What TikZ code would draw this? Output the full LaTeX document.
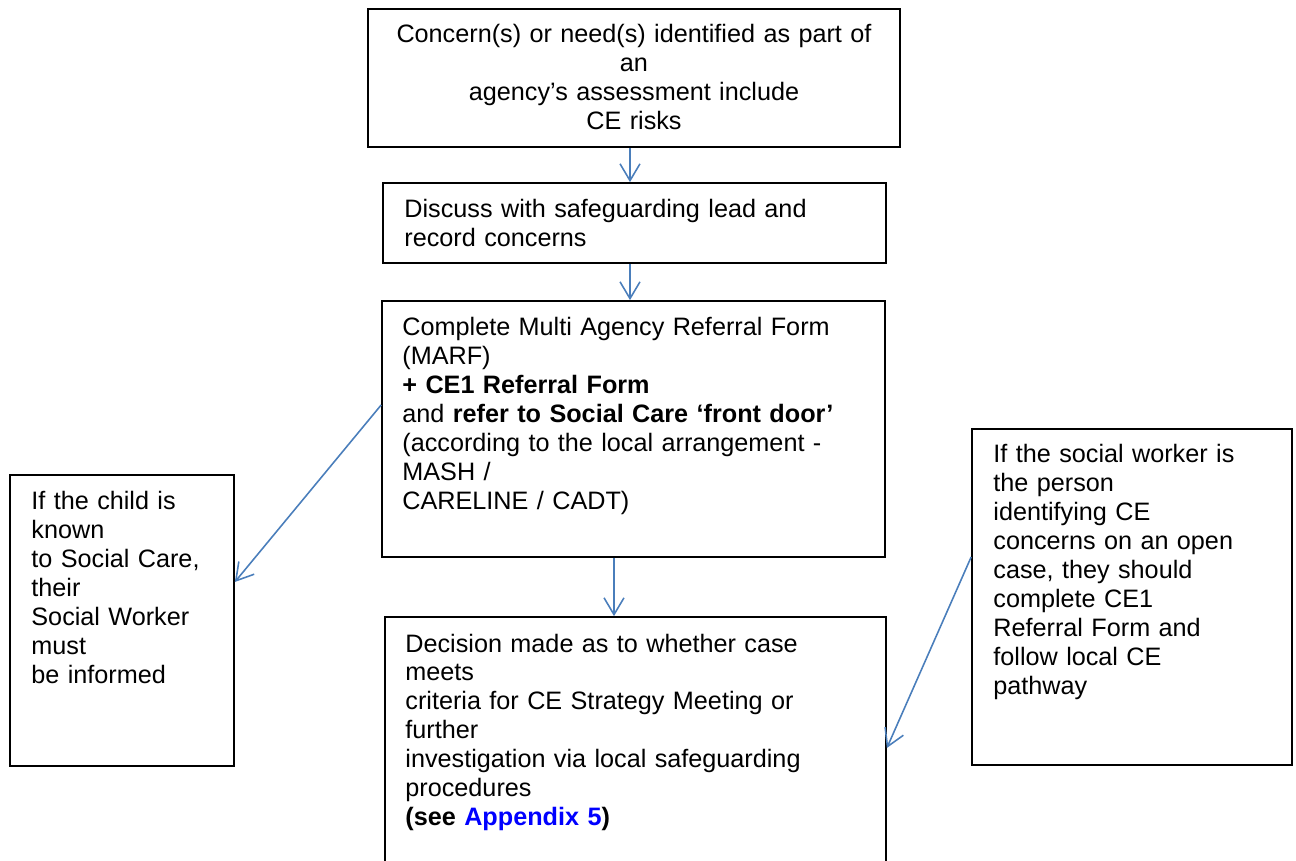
\documentclass[tikz,border=0pt]{standalone}
\usepackage{fontspec}
\setmainfont{Liberation Sans}
\usetikzlibrary{arrows.meta,fit}
\definecolor{flowblue}{HTML}{4A7EBB}
\definecolor{linkblue}{RGB}{0,0,255}
\tikzstyle{box}=[draw=black,line width=0.8pt,inner sep=0pt]
\tikzstyle{boxtext}=[inner sep=0pt,align=left,anchor=base west,font=\fontsize{12}{13.8}\selectfont]
\tikzstyle{flow}=[draw=flowblue,line width=0.75pt,-{Straight Barb[length=8pt,width=9.5pt]}]

\begin{document}
\begin{tikzpicture}[x=0.476pt,y=-0.476pt]
	\useasboundingbox (0,0) rectangle (1296,861);
	% the boxes
	\node[box,fit={(368,9) (900,147)}] (concern) {};
	\node[box,fit={(383,183) (886,263)}] (discuss) {};
	\node[box,fit={(382,301) (885,557)}] (marf) {};
	\node[box,fit={(385,617) (886,880)}] (decision) {};
	\node[box,fit={(10,475) (234,766)}] (known) {};
	\node[box,fit={(972,429) (1292,765)}] (open) {};
	% texts
	\node[boxtext,anchor=base,align=center,text width=260pt] (concerntxt) at (634,43)
		{Concern(s) or need(s) identified as part of\\ an\\ agency’s assessment include\\ CE risks};
	\node[boxtext,text width=225pt] (discusstxt) at (404,218)
		{Discuss with safeguarding lead and\\ record concerns};
	\node[boxtext,text width=225pt] (marftxt) at (402,336)
		{Complete Multi Agency Referral Form\\ (MARF)\\ \textbf{+ CE1 Referral Form}\\
		 and \textbf{refer to Social Care ‘front door’}\\ (according to the local arrangement -\\
		 MASH /\\ CARELINE / CADT)};
	\node[boxtext,text width=225pt] (decisiontxt) at (405,652)
		{Decision made as to whether case\\ meets\\ criteria for CE Strategy Meeting or\\ further\\
		 investigation via local safeguarding\\ procedures\\ \textbf{(see \textcolor{linkblue}{Appendix 5})}};
	\node[boxtext,text width=100pt] (knowntxt) at (31,510)
		{If the child is\\ known\\ to Social Care,\\ their\\ Social Worker\\ must\\ be informed};
	\node[boxtext,text width=140pt] (opentxt) at (993,463)
		{If the social worker is\\ the person\\ identifying CE\\ concerns on an open\\ case, they should\\
		 complete CE1\\ Referral Form and\\ follow local CE\\ pathway};
	% arrows
	\coordinate (colA) at (630,0);
	\coordinate (colB) at (614,0);
	\coordinate (rowL1) at (0,405);
	\coordinate (rowL2) at (0,582);
	\coordinate (rowR1) at (0,557);
	\coordinate (rowR2) at (0,748);
	\draw[flow] (concern.south -| colA) -- (discuss.north -| colA);
	\draw[flow] (discuss.south -| colA) -- (marf.north -| colA);
	\draw[flow] (marf.south -| colB) -- (decision.north -| colB);
	\draw[flow] (marf.west |- rowL1) -- (known.east |- rowL2);
	\draw[flow] (open.west |- rowR1) -- (decision.east |- rowR2);
\end{tikzpicture}
\end{document}
